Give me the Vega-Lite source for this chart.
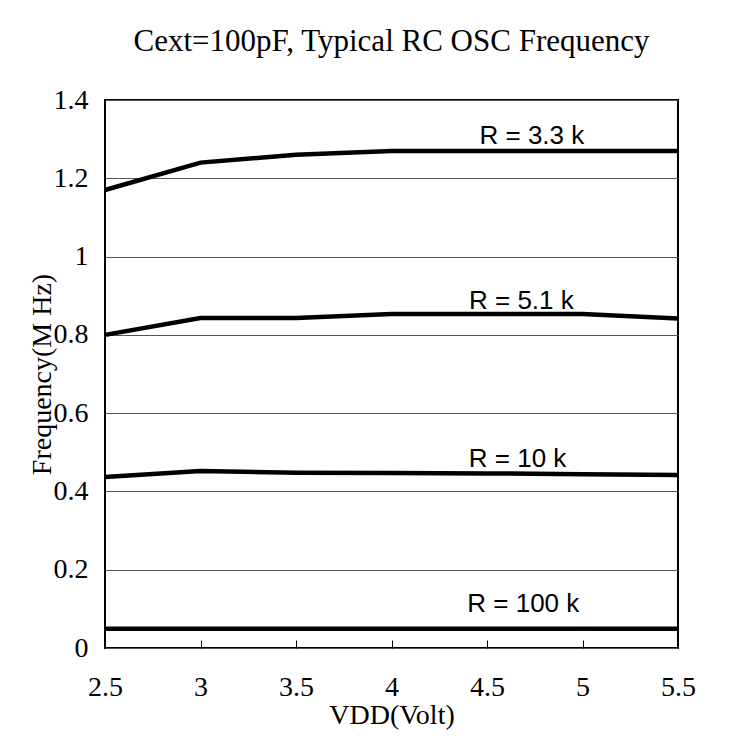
{
  "$schema": "https://vega.github.io/schema/vega-lite/v6.json",
  "autosize": {"type": "none"},
  "padding": {"left": 105, "top": 100, "right": 59, "bottom": 94},
  "width": 573,
  "height": 548,
  "background": "white",
  "title": {
    "text": "Cext=100pF, Typical RC OSC Frequency",
    "font": "Liberation Serif",
    "fontSize": 31,
    "fontWeight": "normal",
    "color": "black",
    "anchor": "middle",
    "offset": 28
  },
  "config": {
    "view": {"stroke": "black", "strokeWidth": 2},
    "axis": {"labelFont": "Liberation Serif", "titleFont": "Liberation Serif", "labelColor": "black", "titleColor": "black", "labelFontSize": 28, "titleFontSize": 28, "titleFontWeight": "normal", "domain": false}
  },
  "datasets": {
    "series": [
      {"vdd": 2.5, "freq": 1.17, "r": "3.3k"},
      {"vdd": 3.0, "freq": 1.24, "r": "3.3k"},
      {"vdd": 3.5, "freq": 1.26, "r": "3.3k"},
      {"vdd": 4.0, "freq": 1.27, "r": "3.3k"},
      {"vdd": 4.5, "freq": 1.27, "r": "3.3k"},
      {"vdd": 5.0, "freq": 1.27, "r": "3.3k"},
      {"vdd": 5.5, "freq": 1.27, "r": "3.3k"},
      {"vdd": 2.5, "freq": 0.80, "r": "5.1k"},
      {"vdd": 3.0, "freq": 0.843, "r": "5.1k"},
      {"vdd": 3.5, "freq": 0.843, "r": "5.1k"},
      {"vdd": 4.0, "freq": 0.853, "r": "5.1k"},
      {"vdd": 4.5, "freq": 0.853, "r": "5.1k"},
      {"vdd": 5.0, "freq": 0.853, "r": "5.1k"},
      {"vdd": 5.5, "freq": 0.842, "r": "5.1k"},
      {"vdd": 2.5, "freq": 0.437, "r": "10k"},
      {"vdd": 3.0, "freq": 0.452, "r": "10k"},
      {"vdd": 3.5, "freq": 0.448, "r": "10k"},
      {"vdd": 4.0, "freq": 0.447, "r": "10k"},
      {"vdd": 4.5, "freq": 0.446, "r": "10k"},
      {"vdd": 5.0, "freq": 0.444, "r": "10k"},
      {"vdd": 5.5, "freq": 0.442, "r": "10k"},
      {"vdd": 2.5, "freq": 0.049, "r": "100k"},
      {"vdd": 3.0, "freq": 0.049, "r": "100k"},
      {"vdd": 3.5, "freq": 0.049, "r": "100k"},
      {"vdd": 4.0, "freq": 0.049, "r": "100k"},
      {"vdd": 4.5, "freq": 0.049, "r": "100k"},
      {"vdd": 5.0, "freq": 0.049, "r": "100k"},
      {"vdd": 5.5, "freq": 0.049, "r": "100k"}
    ],
    "labels": [
      {"vdd": 4.735, "freq": 1.288, "label": "R = 3.3 k"},
      {"vdd": 4.68, "freq": 0.866, "label": "R = 5.1 k"},
      {"vdd": 4.66, "freq": 0.463, "label": "R = 10 k"},
      {"vdd": 4.69, "freq": 0.092, "label": "R = 100 k"}
    ]
  },
  "layer": [
    {
      "data": {"name": "series"},
      "mark": {"type": "line", "color": "black", "strokeWidth": 4.5},
      "encoding": {
        "x": {
          "field": "vdd", "type": "quantitative", "title": "VDD(Volt)",
          "scale": {"domain": [2.5, 5.5], "nice": false, "zero": false},
          "axis": {"values": [2.5, 3, 3.5, 4, 4.5, 5, 5.5], "format": ".2~f", "grid": false, "tickColor": "black", "tickSize": -8, "labelFont": "Liberation Serif", "labelPadding": 33, "titlePadding": 0, "labelFlush": false}
        },
        "y": {
          "field": "freq", "type": "quantitative", "title": "Frequency(M Hz)",
          "scale": {"domain": [0, 1.4], "nice": false},
          "axis": {"values": [0, 0.2, 0.4, 0.6, 0.8, 1, 1.2, 1.4], "format": ".2~f", "grid": true, "gridColor": "#555555", "gridWidth": 1, "gridOpacity": 1, "ticks": false, "labelFont": "Liberation Serif", "labelPadding": 17, "titleX": -63, "titleY": 274, "titleAngle": -90, "titleBaseline": "middle", "labelFlush": false}
        },
        "detail": {"field": "r", "type": "nominal"}
      }
    },
    {
      "data": {"name": "labels"},
      "mark": {"type": "text", "font": "Liberation Sans", "fontSize": 26, "color": "black", "align": "center", "baseline": "alphabetic"},
      "encoding": {
        "x": {"field": "vdd", "type": "quantitative"},
        "y": {"field": "freq", "type": "quantitative"},
        "text": {"field": "label"}
      }
    }
  ]
}
